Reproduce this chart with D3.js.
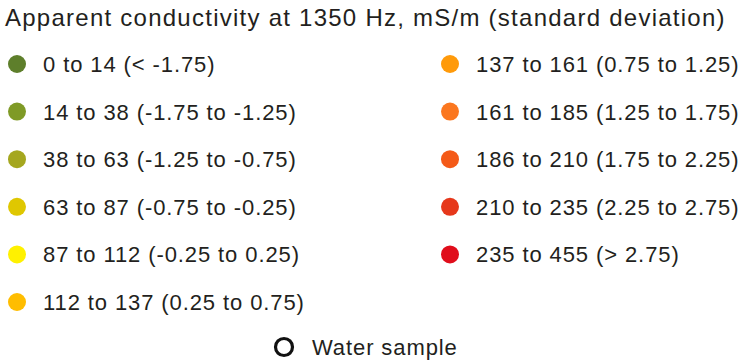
<!DOCTYPE html>
<html>
<head>
<meta charset="utf-8">
<script src="https://cdn.jsdelivr.net/npm/d3@7"></script>
<style>
  html, body { margin: 0; padding: 0; background: #fff; }
  svg { display: block; font-family: "Liberation Sans", Arial, sans-serif; }
</style>
</head>
<body>
<svg id="legend" width="741" height="360"></svg>
<script>
// Class breaks for apparent conductivity (mS/m)
const lowValues  = [0, 14, 38, 63, 87, 112, 137, 161, 186, 210, 235];
const highValues = [14, 38, 63, 87, 112, 137, 161, 185, 210, 235, 455];
// Standard-deviation bands for each class
const sdLabels = ["< -1.75", "-1.75 to -1.25", "-1.25 to -0.75", "-0.75 to -0.25",
  "-0.25 to 0.25", "0.25 to 0.75", "0.75 to 1.25", "1.25 to 1.75",
  "1.75 to 2.25", "2.25 to 2.75", "> 2.75"];
const classColors = ["#5e7f2b", "#7f9a26", "#a5a71f", "#dfc701", "#fff100",
  "#ffbd00", "#ff9a0a", "#fb771f", "#f45a18", "#e6381b", "#e00d1b"];
const titleText = "Apparent conductivity at 1350 Hz, mS/m (standard deviation)";
const sampleLabel = "Water sample";

const svg = d3.select("#legend");
const ink = "#231f20";

svg.append("text")
  .attr("x", 5).attr("y", 26)
  .attr("font-size", 24)
  .attr("letter-spacing", 1.25)
  .attr("fill", ink)
  .text(titleText);

const items = lowValues.map((lo, i) => ({
  label: `${lo} to ${highValues[i]} (${sdLabels[i]})`,
  color: classColors[i],
  col: i < 6 ? 0 : 1,
  row: i < 6 ? i : i - 6
}));

const y = d3.scalePoint().domain(d3.range(6)).range([64, 302]);
const x = d3.scalePoint().domain([0, 1]).range([17, 450]);

const g = svg.selectAll("g.item").data(items).join("g")
  .attr("class", "item")
  .attr("transform", d => `translate(${x(d.col)},${y(d.row)})`);

g.append("circle").attr("r", 9).attr("fill", d => d.color);
g.append("text")
  .attr("x", 26).attr("y", 8)
  .attr("font-size", 22)
  .attr("letter-spacing", 0.9)
  .attr("fill", ink)
  .text(d => d.label);

const ws = svg.append("g").attr("transform", "translate(284,347)");
ws.append("circle").attr("r", 8.5).attr("fill", "none")
  .attr("stroke", "#111").attr("stroke-width", 3.2);
ws.append("text").attr("x", 28).attr("y", 8)
  .attr("font-size", 22).attr("letter-spacing", 0.9)
  .attr("fill", ink).text(sampleLabel);
</script>
</body>
</html>
